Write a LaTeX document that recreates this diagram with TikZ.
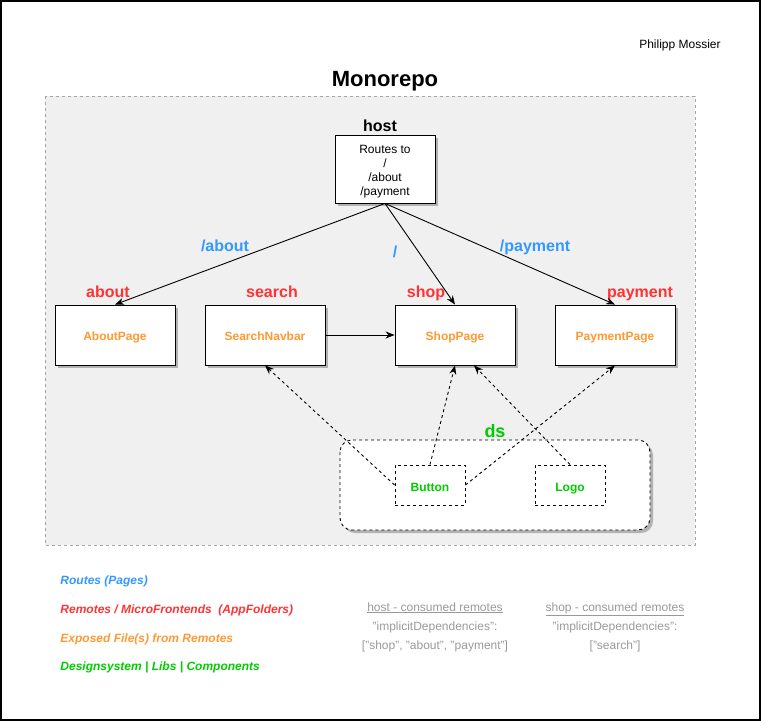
\documentclass[tikz,border=0pt]{standalone}
\usepackage{fontspec}
\setmainfont{Liberation Sans}
\usepackage{tikz}
\usetikzlibrary{calc,arrows.meta,positioning,shadows}

\definecolor{routeblue}{HTML}{3399FF}
\definecolor{remotered}{HTML}{FF3333}
\definecolor{exposedorange}{HTML}{FF9933}
\definecolor{dsgreen}{HTML}{00CC00}
\definecolor{notegray}{HTML}{999999}
\definecolor{repofill}{HTML}{F0F0F0}

\begin{document}
\begin{tikzpicture}[
  x=1pt, y=-1pt, line width=0.9pt,
  dashline/.style={dash pattern=on 3pt off 3pt},
  boxshadow/.style={drop shadow={shadow xshift=3pt, shadow yshift=-3pt, fill=black!30, opacity=1}},
  page/.style={rectangle, draw, fill=white, boxshadow, minimum width=120pt, minimum height=60pt,
    inner sep=0pt, text height=11pt, text depth=0pt,
    font=\fontsize{12}{14}\selectfont\bfseries, text=exposedorange},
  comp/.style={rectangle, draw, dashline, fill=white, minimum width=70pt, minimum height=40pt,
    inner sep=0pt, text height=12pt, text depth=0pt,
    font=\fontsize{12}{14}\selectfont\bfseries, text=dsgreen},
  appname/.style={anchor=base, font=\fontsize{16}{18}\selectfont\bfseries, text=remotered, inner sep=0pt},
  route/.style={anchor=base, font=\fontsize{16}{18}\selectfont\bfseries, text=routeblue, inner sep=0pt},
  legend/.style={anchor=west, font=\fontsize{12}{14}\selectfont\bfseries\itshape, inner sep=0pt},
  note/.style={align=center, text=notegray, font=\fontsize{12}{19}\selectfont, inner sep=0pt},
  link/.style={draw, -{Stealth[length=9pt,width=7pt]}},
  uses/.style={draw, dashline, -{Stealth[length=9pt,width=7pt]}}
]
\useasboundingbox (0,0) rectangle (761,721);
\draw[line width=1.5pt] (0.75,0.75) rectangle (760,720);

\node[font=\fontsize{12}{14}\selectfont, inner sep=0pt] (author) at (680,45) {Philipp Mossier};
\node[font=\fontsize{22}{26}\selectfont\bfseries, inner sep=0pt, anchor=base] (title) at (385,86) {Monorepo};

% monorepo area
\draw[dashline, draw=black!35, fill=repofill] (45,96) rectangle (695,545);

% host
\node[rectangle, draw, fill=white, boxshadow, minimum width=100pt, minimum height=68pt, inner sep=0pt]
  (host) at (385,169) {};
\node[align=center, font=\fontsize{12}{14}\selectfont, inner sep=0pt] (hosttext) at (385,172)
  {Routes to\\/\\/about\\/payment};
\node[font=\fontsize{16}{18}\selectfont\bfseries, inner sep=0pt, anchor=base] (hostname) at (380,131) {host};

% remotes
\node[page] (about) at (115,335) {AboutPage};
\node[page] (search) at (265,335) {SearchNavbar};
\node[page] (shop) at (455,335) {ShopPage};
\node[page] (payment) at (615,335) {PaymentPage};

\node[appname] (aboutname) at (108,297) {about};
\node[appname] (searchname) at (272,297) {search};
\node[appname] (shopname) at (426,297) {shop};
\node[appname] (paymentname) at (640,297) {payment};

% routes
\path[link] (host.south) -- (about.north);
\path[link] (host.south) -- (shop.north);
\path[link] (host.south) -- (payment.north);
\path[link] (search.east) -- (shop.west);

\node[route] (aboutroute) at (225,251) {/about};
\node[route] (rootroute) at (395,257) {/};
\node[route] (paymentroute) at (535,251) {/payment};

% designsystem
\draw[dashline, fill=white, rounded corners=12pt, boxshadow] (340,440) rectangle (650,530);
\node[font=\fontsize{18}{20}\selectfont\bfseries, text=dsgreen, inner sep=0pt, anchor=base] (dsname) at (495,437) {ds};
\node[comp] (button) at (430,485) {Button};
\node[comp] (logo) at (570,485) {Logo};

\coordinate (shopin) at ($(shop.south)+(19,0)$);
\path[uses] (button.west) -- (search.south);
\path[uses] (button.north) -- (shop.south);
\path[uses] (button.east) -- (payment.south);
\path[uses] (logo.north) -- (shopin);

% legend
\node[legend, text=routeblue] (lroutes) at (60,581) {Routes (Pages)};
\node[legend, text=remotered] (lremotes) at (60,610) {Remotes / MicroFrontends~~(AppFolders)};
\node[legend, text=exposedorange] (lexposed) at (60,639) {Exposed File(s) from Remotes};
\node[legend, text=dsgreen] (lds) at (60,667) {Designsystem | Libs | Components};

\node[note] (hostnote) at (435,627) {\underline{host - consumed remotes}\\"implicitDependencies":\\{[}"shop", "about", "payment"{]}};
\node[note] (shopnote) at (615,627) {\underline{shop - consumed remotes}\\"implicitDependencies":\\{[}"search"{]}};
\end{tikzpicture}
\end{document}
